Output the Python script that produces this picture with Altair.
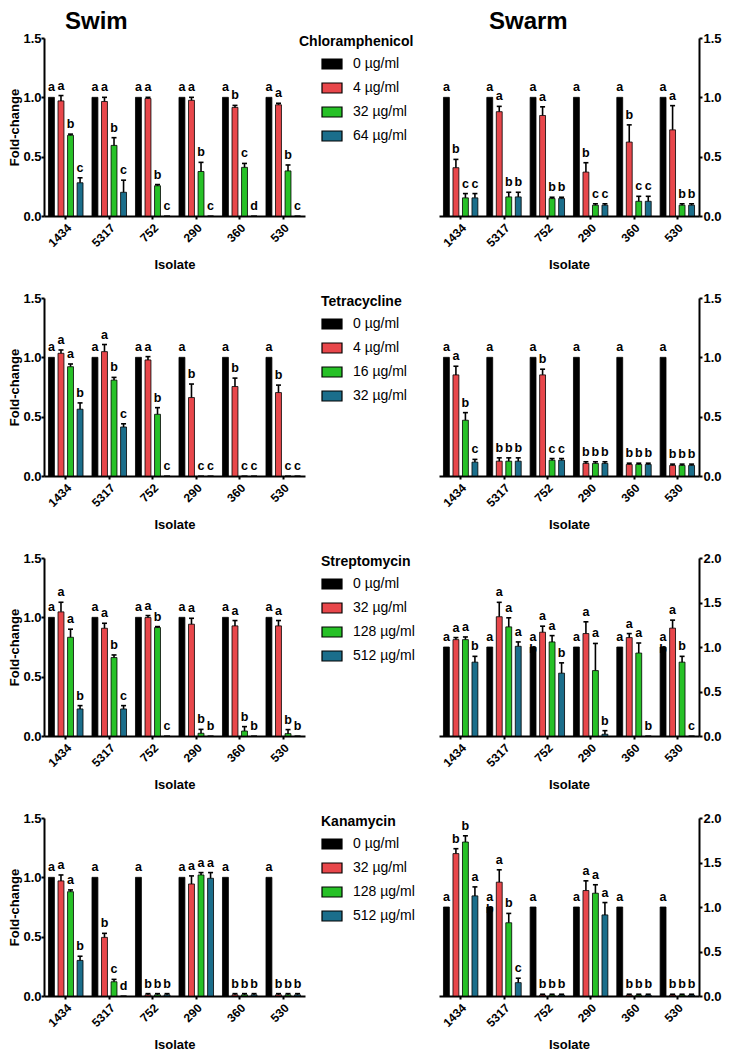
import altair as alt
import pandas as pd

FONT = "Liberation Sans"
ISOLATES = ["1434", "5317", "752", "290", "360", "530"]
COLORS = ["#000000", "#e8474b", "#27c127", "#1b6e8b"]
TICKS_15 = [0.0, 0.5, 1.0, 1.5]
TICKS_20 = [0.0, 0.5, 1.0, 1.5, 2.0]

CHL_CONC = ["0 µg/ml", "4 µg/ml", "32 µg/ml", "64 µg/ml"]
TET_CONC = ["0 µg/ml", "4 µg/ml", "16 µg/ml", "32 µg/ml"]
STR_CONC = ["0 µg/ml", "32 µg/ml", "128 µg/ml", "512 µg/ml"]
KAN_CONC = ["0 µg/ml", "32 µg/ml", "128 µg/ml", "512 µg/ml"]

# ---------- Chloramphenicol ----------
CHL_SWIM_MEAN = [[1, 1, 1, 1, 1, 1],
                 [0.97, 0.965, 0.99, 0.975, 0.915, 0.937],
                 [0.68, 0.595, 0.255, 0.375, 0.41, 0.38],
                 [0.28, 0.2, 0, 0, 0, 0]]
CHL_SWIM_TOP = [[1, 1, 1, 1, 1, 1],
                [1.015, 1.0, 1.0, 1.0, 0.932, 0.95],
                [0.69, 0.66, 0.265, 0.452, 0.443, 0.43],
                [0.322, 0.302, 0, 0, 0, 0]]
CHL_SWIM_LET = [["a", "a", "a", "a", "a", "a"],
                ["a", "a", "a", "a", "b", "a"],
                ["b", "b", "b", "b", "c", "b"],
                ["c", "c", "c", "c", "d", "c"]]
CHL_SWARM_MEAN = [[1, 1, 1, 1, 1, 1],
                  [0.407, 0.879, 0.847, 0.37, 0.623, 0.726],
                  [0.153, 0.161, 0.147, 0.091, 0.124, 0.091],
                  [0.153, 0.161, 0.147, 0.091, 0.124, 0.091]]
CHL_SWARM_TOP = [[1, 1, 1, 1, 1, 1],
                 [0.477, 0.924, 0.92, 0.449, 0.768, 0.93],
                 [0.189, 0.2, 0.158, 0.103, 0.166, 0.103],
                 [0.189, 0.2, 0.158, 0.103, 0.166, 0.103]]
CHL_SWARM_LET = [["a", "a", "a", "a", "a", "a"],
                 ["b", "a", "a", "b", "b", "a"],
                 ["c", "b", "b", "c", "c", "b"],
                 ["c", "b", "b", "c", "c", "b"]]

# ---------- Tetracycline ----------
TET_SWIM_MEAN = [[1, 1, 1, 1, 1, 1],
                 [1.034, 1.048, 0.978, 0.661, 0.754, 0.703],
                 [0.921, 0.808, 0.52, 0, 0, 0],
                 [0.563, 0.413, 0, 0, 0, 0]]
TET_SWIM_TOP = [[1, 1, 1, 1, 1, 1],
                [1.062, 1.108, 1.006, 0.775, 0.825, 0.766],
                [0.944, 0.831, 0.576, 0, 0, 0],
                [0.616, 0.44, 0, 0, 0, 0]]
TET_SWIM_LET = [["a", "a", "a", "a", "a", "a"],
                ["a", "a", "a", "b", "b", "b"],
                ["a", "b", "b", "c", "c", "c"],
                ["b", "c", "c", "c", "c", "c"]]
TET_SWARM_MEAN = [[1, 1, 1, 1, 1, 1],
                  [0.852, 0.125, 0.852, 0.106, 0.097, 0.089],
                  [0.47, 0.125, 0.133, 0.106, 0.097, 0.089],
                  [0.117, 0.125, 0.133, 0.106, 0.097, 0.089]]
TET_SWARM_TOP = [[1, 1, 1, 1, 1, 1],
                 [0.925, 0.153, 0.9, 0.12, 0.108, 0.1],
                 [0.534, 0.153, 0.147, 0.12, 0.108, 0.1],
                 [0.14, 0.153, 0.147, 0.12, 0.108, 0.1]]
TET_SWARM_LET = [["a", "a", "a", "a", "a", "a"],
                 ["a", "b", "b", "b", "b", "b"],
                 ["b", "b", "c", "b", "b", "b"],
                 ["c", "b", "c", "b", "b", "b"]]

# ---------- Streptomycin ----------
STR_SWIM_MEAN = [[1, 1, 1, 1, 1, 1],
                 [1.046, 0.908, 0.998, 0.942, 0.928, 0.928],
                 [0.832, 0.661, 0.914, 0.023, 0.042, 0.02],
                 [0.228, 0.228, 0, 0, 0, 0]]
STR_SWIM_TOP = [[1, 1, 1, 1, 1, 1],
                [1.127, 0.95, 1.015, 0.992, 0.973, 0.973],
                [0.9, 0.683, 0.922, 0.056, 0.079, 0.054],
                [0.256, 0.256, 0, 0, 0, 0]]
STR_SWIM_LET = [["a", "a", "a", "a", "a", "a"],
                ["a", "a", "a", "a", "a", "a"],
                ["a", "b", "b", "b", "b", "b"],
                ["b", "c", "c", "b", "b", "b"]]
STR_SWARM_MEAN = [[1, 1, 1, 1, 1, 1],
                  [1.083, 1.34, 1.166, 1.151, 1.106, 1.212],
                  [1.083, 1.226, 1.057, 0.735, 0.932, 0.83],
                  [0.83, 1.008, 0.706, 0.02, 0, 0]]
STR_SWARM_TOP = [[1, 1, 1, 1, 1, 1],
                 [1.106, 1.502, 1.234, 1.283, 1.151, 1.302],
                 [1.113, 1.328, 1.128, 1.04, 1.045, 0.895],
                 [0.895, 1.057, 0.822, 0.06, 0, 0]]
STR_SWARM_LET = [["a", "a", "a\nb", "a", "a", "a\nb"],
                 ["a", "a", "a", "a", "a", "a"],
                 ["a", "a", "a", "a", "a", "b"],
                 ["b", "a", "b", "b", "b", "c"]]

# ---------- Kanamycin ----------
KAN_SWIM_MEAN = [[1, 1, 1, 1, 1, 1],
                 [0.97, 0.494, 0.01, 0.944, 0.01, 0.01],
                 [0.879, 0.12, 0.01, 1.02, 0.01, 0.01],
                 [0.3, 0, 0.01, 0.992, 0.01, 0.01]]
KAN_SWIM_TOP = [[1, 1, 1, 1, 1, 1],
                [1.02, 0.528, 0.02, 1.012, 0.02, 0.02],
                [0.894, 0.14, 0.02, 1.04, 0.02, 0.02],
                [0.335, 0, 0.02, 1.04, 0.02, 0.02]]
KAN_SWIM_LET = [["a", "a", "a", "a", "a", "a"],
                ["a", "b", "b", "a", "b", "b"],
                ["a", "c", "b", "a", "b", "b"],
                ["b", "d", "b", "a", "b", "b"]]
KAN_SWARM_MEAN = [[1, 1, 1, 1, 1, 1],
                  [1.6, 1.279, 0.01, 1.185, 0.01, 0.01],
                  [1.73, 0.823, 0.01, 1.155, 0.01, 0.01],
                  [1.125, 0.15, 0.01, 0.911, 0.01, 0.01]]
KAN_SWARM_TOP = [[1, 1, 1, 1, 1, 1],
                 [1.655, 1.418, 0.02, 1.294, 0.02, 0.02],
                 [1.8, 0.928, 0.02, 1.25, 0.02, 0.02],
                 [1.226, 0.2, 0.02, 1.05, 0.02, 0.02]]
KAN_SWARM_LET = [["a", "a\nb", "a", "a", "a", "a"],
                 ["b", "a", "b", "a", "b", "b"],
                 ["b", "b", "b", "a", "b", "b"],
                 ["a", "c", "b", "a", "b", "b"]]


def build_df(conc, means, tops, lets):
    recs = []
    for ci in range(4):
        for ii, iso in enumerate(ISOLATES):
            recs.append({"isolate": iso, "conc": conc[ci], "ci": ci,
                         "mean": means[ci][ii], "top": tops[ci][ii],
                         "letter": lets[ci][ii]})
    return pd.DataFrame(recs)


def panel(df, conc, ticks, side, width, legend_title=None, title=None,
          sym_shift=0):
    ymax = ticks[-1]
    x = alt.X("isolate:N", sort=ISOLATES,
              scale=alt.Scale(paddingInner=0, paddingOuter=0),
              axis=alt.Axis(title="Isolate"))
    xo = alt.XOffset("ci:O", scale=alt.Scale(paddingInner=0.38, paddingOuter=0.47))
    yscale = alt.Scale(domain=[0, ymax], nice=False)
    if side == "left":
        yaxis = alt.Axis(orient="left", values=ticks, format=".1f", title="Fold-change",
                         titleX=-23, labelPadding=0)
    else:
        yaxis = alt.Axis(orient="right", values=ticks, format=".1f", title=None)
    if legend_title:
        leg = alt.Legend(title=legend_title, orient="none", legendX=277 - sym_shift,
                         legendY=-3, titleFontSize=14, titleFontWeight="bold",
                         titleFont=FONT, titleColor="black", titleAnchor="start",
                         titlePadding=4, labelFont=FONT, labelFontSize=14,
                         labelColor="black", labelOffset=10,
                         symbolOffset=sym_shift,
                         symbolType="M-1,-0.5H1V0.5H-1Z", symbolSize=400,
                         symbolStrokeColor="black", symbolStrokeWidth=1.2,
                         symbolOpacity=1, rowPadding=5)
        color = alt.Color("conc:N", scale=alt.Scale(domain=conc, range=COLORS), legend=leg)
    else:
        color = alt.Color("conc:N", scale=alt.Scale(domain=conc, range=COLORS), legend=None)

    base = alt.Chart(df)
    bars = base.mark_bar(stroke="black", strokeWidth=0.8).encode(
        x=x, xOffset=xo, y=alt.Y("mean:Q", scale=yscale, axis=yaxis), color=color)
    err = base.transform_filter("datum.top > datum.mean").mark_rule(
        color="black", strokeWidth=1.6).encode(
        x=x, xOffset=xo, y=alt.Y("mean:Q", scale=yscale, axis=yaxis), y2="top:Q")
    cap = base.transform_filter("datum.top > datum.mean").mark_tick(
        color="black", thickness=1.6, size=5, opacity=1).encode(
        x=x, xOffset=xo, y=alt.Y("top:Q", scale=yscale, axis=yaxis))
    txt = base.mark_text(baseline="bottom", dy=-3, fontSize=12.5, fontWeight="bold",
                         font=FONT, lineBreak="\n", lineHeight=12, color="black").encode(
        x=x, xOffset=xo, y=alt.Y("top:Q", scale=yscale, axis=yaxis), text="letter:N")
    props = dict(width=width, height=178)
    if title:
        props["title"] = title
    return alt.layer(bars, err, cap, txt).properties(**props)


def row(conc, swim, swarm, swarm_ticks, legend_title, first=False, sym_shift=0):
    t_swim = t_swarm = None
    if first:
        t_swim = alt.TitleParams("Swim", fontSize=24, fontWeight="bold", font=FONT,
                                 anchor="start", frame="group", dx=21, offset=-2,
                                 color="black")
        t_swarm = alt.TitleParams("Swarm", fontSize=24, fontWeight="bold", font=FONT,
                                  anchor="start", frame="group", dx=50, offset=-2,
                                  color="black")
    left = panel(build_df(conc, *swim), conc, TICKS_15, "left", 261,
                 legend_title=legend_title, title=t_swim, sym_shift=sym_shift)
    right = panel(build_df(conc, *swarm), conc, swarm_ticks, "right", 260,
                  title=t_swarm)
    return [left, right]


panels = []
panels += row(CHL_CONC, (CHL_SWIM_MEAN, CHL_SWIM_TOP, CHL_SWIM_LET),
              (CHL_SWARM_MEAN, CHL_SWARM_TOP, CHL_SWARM_LET), TICKS_15,
              "Chloramphenicol", first=True, sym_shift=22)
panels += row(TET_CONC, (TET_SWIM_MEAN, TET_SWIM_TOP, TET_SWIM_LET),
              (TET_SWARM_MEAN, TET_SWARM_TOP, TET_SWARM_LET), TICKS_15, "Tetracycline")
panels += row(STR_CONC, (STR_SWIM_MEAN, STR_SWIM_TOP, STR_SWIM_LET),
              (STR_SWARM_MEAN, STR_SWARM_TOP, STR_SWARM_LET), TICKS_20, "Streptomycin")
panels += row(KAN_CONC, (KAN_SWIM_MEAN, KAN_SWIM_TOP, KAN_SWIM_LET),
              (KAN_SWARM_MEAN, KAN_SWARM_TOP, KAN_SWARM_LET), TICKS_20, "Kanamycin")

chart = alt.concat(*panels, columns=2, spacing=alt.RowColnumber(row=82, column=134),
                   bounds="flush",
                   padding={"left": 0, "top": 2, "right": 0, "bottom": 0}).resolve_scale(
    color="independent", x="independent", y="independent", xOffset="independent"
).configure_view(strokeWidth=0).configure_axis(
    domainColor="black", domainWidth=2, tickColor="black", tickWidth=2, tickSize=3,
    labelColor="black", labelFont=FONT, labelFontWeight="bold", labelFontSize=13,
    titleFont=FONT, titleFontWeight="bold", titleFontSize=13, titleColor="black",
    grid=False, labelPadding=1
).configure_axisX(
    labelAngle=-45, labelFontSize=12, labelPadding=3, titlePadding=10
).configure_axisY(titlePadding=1)

chart.save("out.html", embed_options={"renderer": "svg", "actions": False})
